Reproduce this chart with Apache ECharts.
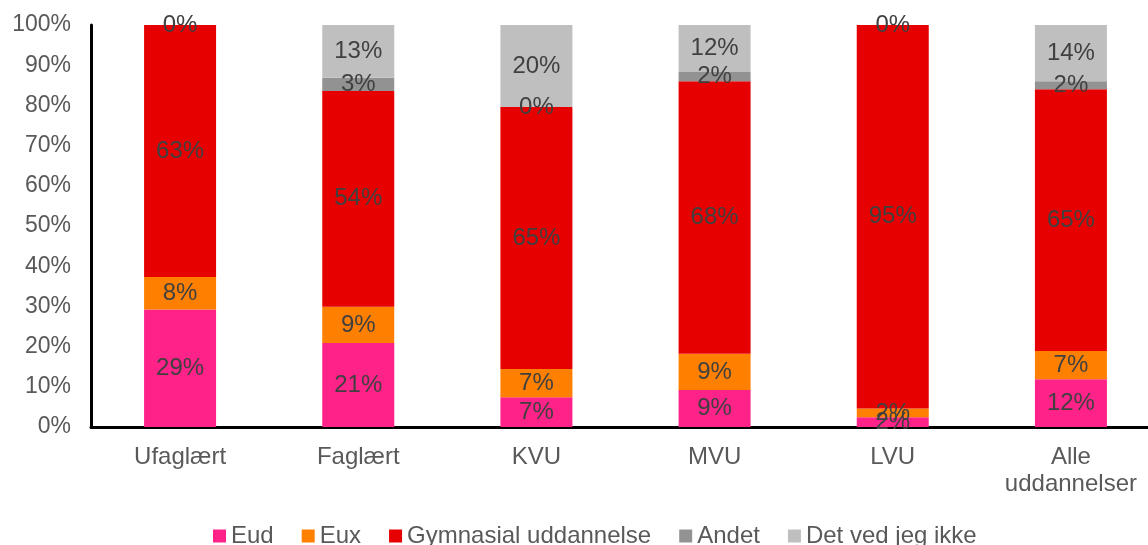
<!DOCTYPE html>
<html>
<head>
<meta charset="utf-8">
<script src="https://cdn.jsdelivr.net/npm/echarts@6/dist/echarts.min.js"></script>
<style>
  html, body { margin: 0; padding: 0; background: #fff; }
  #chart { width: 1148px; height: 545px; }
</style>
</head>
<body>
<div id="chart"></div>
<script>
// kategorier og serier
var categories = ['Ufaglært', 'Faglært', 'KVU', 'MVU', 'LVU', 'Alle\nuddannelser'];
var seriesNames = ['Eud', 'Eux', 'Gymnasial uddannelse', 'Andet', 'Det ved jeg ikke'];
var colors = ['#FF2288', '#FF8000', '#E60000', '#929292', '#BFBFBF'];

var eud = [29.2, 20.9, 7.4, 9.2, 2.4, 11.9];
var eux = [8.1, 9.0, 7.0, 9.0, 2.2, 7.0];
var gymnasial = [62.7, 53.7, 65.2, 67.8, 95.4, 65.1];
var andet = [null, 3.3, 0, 2.3, null, 2.0];
var vedIkke = [0, 13.1, 20.4, 11.7, 0, 14.0];

var yTicks = [0, 10, 20, 30, 40, 50, 60, 70, 80, 90, 100];

var allData = [eud, eux, gymnasial, andet, vedIkke];

var chart = echarts.init(document.getElementById('chart'), null, { renderer: 'canvas' });

var series = allData.map(function (d, i) {
  return {
    name: seriesNames[i],
    type: 'bar',
    stack: 'total',
    barWidth: 72,
    data: d,
    itemStyle: { color: colors[i] },
    label: {
      show: true,
      position: 'inside',
      color: '#404040',
      fontFamily: 'Liberation Sans',
      fontSize: 24,
      formatter: function (p) {
        return Math.round(p.value) + '%';
      }
    }
  };
});

var option = {
  animation: false,
  backgroundColor: '#fff',
  grid: { left: 91, width: 1069, top: 25, bottom: 118, outerBoundsMode: 'none' },
  legend: {
    data: seriesNames,
    top: 519,
    left: 208,
    itemWidth: 13,
    itemHeight: 13,
    itemGap: 28,
    icon: 'rect',
    textStyle: { color: '#595959', fontFamily: 'Liberation Sans', fontSize: 24, padding: [0, 0, 0, 0] }
  },
  xAxis: {
    type: 'category',
    data: categories,
    axisLine: { lineStyle: { color: '#000', width: 3 } },
    axisTick: { show: false },
    axisLabel: {
      color: '#595959',
      fontFamily: 'Liberation Sans',
      fontSize: 24,
      lineHeight: 27,
      margin: 17
    }
  },
  yAxis: {
    type: 'value',
    min: yTicks[0],
    max: yTicks[yTicks.length - 1],
    interval: 10,
    axisLine: { show: true, lineStyle: { color: '#000', width: 3 } },
    axisTick: { show: false },
    splitLine: { show: false },
    axisLabel: {
      color: '#595959',
      fontFamily: 'Liberation Sans',
      fontSize: 23,
      margin: 20,
      formatter: '{value}%'
    }
  },
  series: series
};

chart.setOption(option);
</script>
</body>
</html>
